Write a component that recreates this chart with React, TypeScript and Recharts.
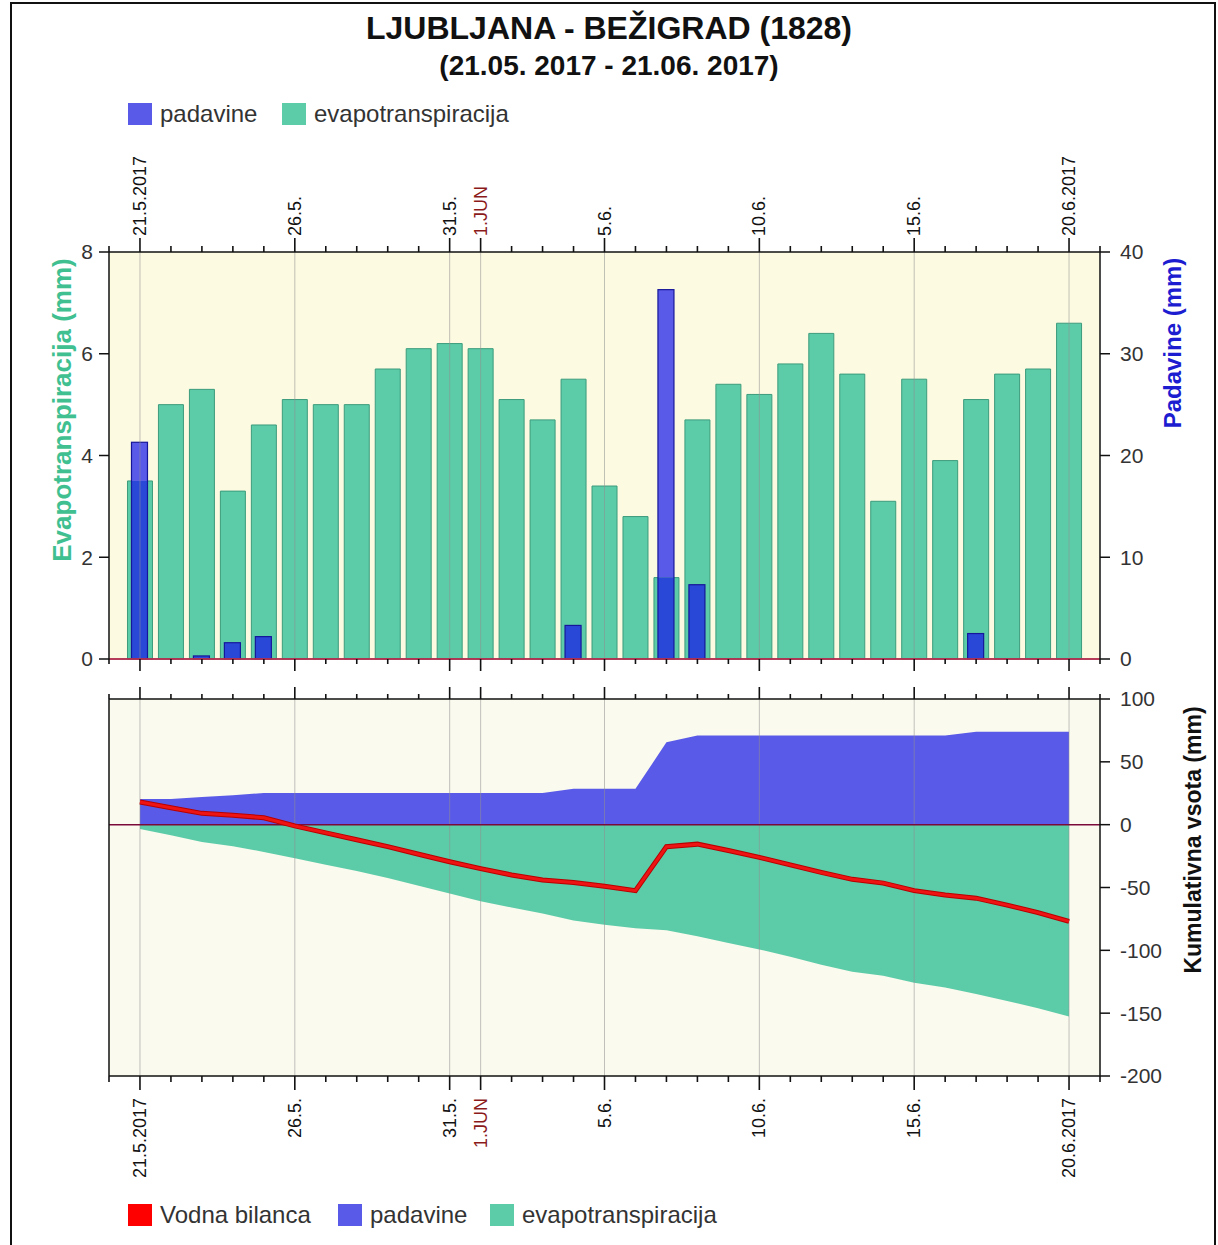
import React from "react";
import {
  ComposedChart,
  Bar,
  Area,
  Line,
  XAxis,
  YAxis,
  CartesianGrid,
  ReferenceLine,
} from "recharts";

const FONT = '"Liberation Sans", Arial, Helvetica, sans-serif';

// 21.5.2017 - 20.6.2017, one entry per day
const dates = [
  "21.5.", "22.5.", "23.5.", "24.5.", "25.5.", "26.5.", "27.5.", "28.5.", "29.5.", "30.5.", "31.5.",
  "1.6.", "2.6.", "3.6.", "4.6.", "5.6.", "6.6.", "7.6.", "8.6.", "9.6.", "10.6.",
  "11.6.", "12.6.", "13.6.", "14.6.", "15.6.", "16.6.", "17.6.", "18.6.", "19.6.", "20.6.",
];

const evapotranspiracija = [
  3.5, 5.0, 5.3, 3.3, 4.6, 5.1, 5.0, 5.0, 5.7, 6.1, 6.2,
  6.1, 5.1, 4.7, 5.5, 3.4, 2.8, 1.6, 4.7, 5.4, 5.2,
  5.8, 6.4, 5.6, 3.1, 5.5, 3.9, 5.1, 5.6, 5.7, 6.6,
];

const padavine = [
  21.3, 0, 0.3, 1.6, 2.2, 0, 0, 0, 0, 0, 0,
  0, 0, 0, 3.3, 0, 0, 36.3, 7.3, 0, 0,
  0, 0, 0, 0, 0, 0, 2.5, 0, 0, 0,
];

// cumulative sums (mm)
const kumPadavine = [
  20.5, 20.5, 22, 23.5, 25.2, 25.2, 25.2, 25.2, 25.2, 25.2, 25.2,
  25.2, 25.2, 25.2, 28.5, 28.5, 28.5, 65.5, 71, 71, 71,
  71, 71, 71, 71, 71, 71, 74, 74, 74, 74,
];

const kumEvapotranspiracija = [
  -3.5, -8.5, -13.8, -17.1, -21.7, -26.8, -31.8, -36.8, -42.5, -48.6, -54.8,
  -60.9, -66.0, -70.7, -76.2, -79.6, -82.4, -84.0, -88.7, -94.1, -99.3,
  -105.1, -111.5, -117.1, -120.2, -125.7, -129.6, -134.7, -140.3, -146.0, -152.6,
];

const vodnaBilanca = [
  18, 13.5, 9, 7.5, 5.5, -1, -6.5, -12, -17.5, -23.5, -29.5,
  -35, -40, -44, -46, -49, -52.5, -17.5, -15.5, -20.5, -26,
  -32, -38, -43.5, -46.5, -52.5, -56, -58.5, -64, -70, -77,
];

const majorDays = [0, 5, 10, 11, 15, 20, 25, 30];
const majorLabels = ["21.5.2017", "26.5.", "31.5.", "1.JUN", "5.6.", "10.6.", "15.6.", "20.6.2017"];
const dayTicks = Array.from({ length: 33 }, (_, i) => i - 1);

const etTicks = [0, 2, 4, 6, 8];
const pTicks = [0, 10, 20, 30, 40];
const cumTicks = [-200, -150, -100, -50, 0, 50, 100];

// both top axes share the same pixel range: 8 mm ET == 40 mm rain
const ET_MAX = 8;
const P_MAX = 40;

const chartData = dates.map((d, i) => ({
  day: i,
  date: d,
  et: evapotranspiracija[i],
  p: padavine[i],
  cumP: kumPadavine[i],
  cumET: kumEvapotranspiracija[i],
  bal: vodnaBilanca[i],
}));

const makeDayTick = (dir: number, majorLen: number, minorLen: number, labelGap: number | null) =>
  (props: any) => {
    const { x, y, payload } = props;
    const idx = majorDays.indexOf(payload.value);
    const len = idx >= 0 ? majorLen : minorLen;
    const label = majorLabels[idx];
    return (
      <g>
        <line x1={x} x2={x} y1={y} y2={y + dir * len} stroke="#111" strokeWidth={1.6} />
        {labelGap !== null && idx >= 0 && (
          <text
            transform={`translate(${x},${y + dir * labelGap}) rotate(-90)`}
            textAnchor={dir < 0 ? "start" : "end"}
            dominantBaseline="central"
            fontSize={18}
            fontFamily={FONT}
            fill={label === "1.JUN" ? "#8b1a1a" : "#111"}
          >
            {label}
          </text>
        )}
      </g>
    );
  };

// rain bar: darker where it sits over the ET bar, lighter above it
const RainBar = (props: any) => {
  const { x, y, width, height, payload } = props;
  if (!height || height <= 0) return <g />;
  const pxPerMm = height / payload.p;
  const etPx = Math.min(height, payload.et * (P_MAX / ET_MAX) * pxPerMm);
  const bottom = y + height;
  return (
    <g>
      <rect x={x} y={y} width={width} height={height - etPx} fill="#5a5ae8" />
      <rect x={x} y={bottom - etPx} width={width} height={etPx} fill="#2a48d8" />
      <rect x={x} y={y} width={width} height={height} fill="none" stroke="#16169a" strokeWidth={1.2} />
    </g>
  );
};

const axisTick = { fontSize: 21, fill: "#333", fontFamily: FONT };

const LegendItem = ({ left, top, color, text }: { left: number; top: number; color: string; text: string }) => (
  <div style={{ position: "absolute", left, top, display: "flex", alignItems: "center", height: 24 }}>
    <div style={{ width: 24, height: 22, background: color, marginRight: 8 }} />
    <span style={{ fontSize: 24, color: "#333", lineHeight: "24px" }}>{text}</span>
  </div>
);

const VTitle = ({ x, y, color, size, text }: { x: number; y: number; color: string; size: number; text: string }) => (
  <div
    style={{
      position: "absolute",
      left: x,
      top: y,
      transform: "translate(-50%, -50%) rotate(-90deg)",
      whiteSpace: "nowrap",
      fontWeight: "bold",
      fontSize: size,
      color,
    }}
  >
    {text}
  </div>
);

export default function App() {
  return (
    <div
      style={{
        position: "absolute",
        left: 0,
        top: 0,
        width: 1218,
        height: 1245,
        overflow: "hidden",
        background: "#fff",
        fontFamily: FONT,
      }}
    >
      <div
        style={{
          position: "absolute",
          left: 10,
          top: 2,
          width: 1206,
          height: 1260,
          border: "2px solid #111",
          boxSizing: "border-box",
        }}
      />

      <div style={{ position: "absolute", left: 0, width: 1218, top: 10, textAlign: "center", fontWeight: "bold", fontSize: 32, color: "#111", lineHeight: "36px" }}>
        LJUBLJANA - BEŽIGRAD (1828)
      </div>
      <div style={{ position: "absolute", left: 0, width: 1218, top: 50, textAlign: "center", fontWeight: "bold", fontSize: 28, color: "#111", lineHeight: "32px" }}>
        (21.05. 2017 - 21.06. 2017)
      </div>

      <LegendItem left={128} top={102} color="#5a5ae8" text="padavine" />
      <LegendItem left={282} top={102} color="#5ccba8" text="evapotranspiracija" />

      {/* Daily bars */}
      <div style={{ position: "absolute", left: 0, top: 130 }}>
        <ComposedChart width={1218} height={554} data={chartData} margin={{ top: 12, right: 58, bottom: 5, left: 49 }}>
          <CartesianGrid xAxisId="top" yAxisId="et" horizontal={false} vertical={false} fill="#fcfae1" fillOpacity={1} />
          <XAxis
            xAxisId="top"
            orientation="top"
            type="number"
            dataKey="day"
            domain={[-1, 31]}
            ticks={dayTicks}
            interval={0}
            height={110}
            tickSize={0}
            tickMargin={0}
            tickLine={false}
            axisLine={{ stroke: "#111", strokeWidth: 1.5 }}
            tick={makeDayTick(-1, 14, 6, 16)}
            allowDataOverflow
          />
          <XAxis
            xAxisId="bottom"
            orientation="bottom"
            type="number"
            dataKey="day"
            domain={[-1, 31]}
            ticks={dayTicks}
            interval={0}
            height={20}
            tickSize={0}
            tickMargin={0}
            tickLine={false}
            axisLine={{ stroke: "#b03050", strokeWidth: 1.5 }}
            tick={makeDayTick(1, 12, 5, null)}
            allowDataOverflow
          />
          <YAxis
            yAxisId="et"
            orientation="left"
            domain={[0, ET_MAX]}
            ticks={etTicks}
            width={60}
            tickSize={10}
            tickMargin={6}
            tick={axisTick}
            tickLine={{ stroke: "#111", strokeWidth: 1.5 }}
            axisLine={{ stroke: "#111", strokeWidth: 1.5 }}
          />
          <YAxis
            yAxisId="p"
            orientation="right"
            domain={[0, P_MAX]}
            ticks={pTicks}
            width={60}
            tickSize={10}
            tickMargin={10}
            tick={axisTick}
            tickLine={{ stroke: "#111", strokeWidth: 1.5 }}
            axisLine={{ stroke: "#111", strokeWidth: 1.5 }}
          />
          <Bar xAxisId="top" yAxisId="et" dataKey="et" barSize={25} fill="#5ccba8" stroke="#3c9c7c" isAnimationActive={false} />
          <Bar xAxisId="bottom" yAxisId="p" dataKey="p" barSize={16} fill="#5a5ae8" shape={RainBar} isAnimationActive={false} />
          {majorDays.map((d) => (
            <ReferenceLine key={d} xAxisId="top" yAxisId="et" x={d} stroke="#8f8f8f" strokeOpacity={0.55} />
          ))}
          <ReferenceLine xAxisId="top" yAxisId="et" y={0} stroke="#b03050" strokeWidth={1.5} />
        </ComposedChart>
      </div>

      {/* Cumulative sums */}
      <div style={{ position: "absolute", left: 0, top: 680 }}>
        <ComposedChart width={1218} height={516} data={chartData} margin={{ top: 0, right: 58, bottom: 0, left: 89 }}>
          <CartesianGrid xAxisId="btop" yAxisId="cum" horizontal={false} vertical={false} fill="#fbfaee" fillOpacity={1} />
          <XAxis
            xAxisId="btop"
            orientation="top"
            type="number"
            dataKey="day"
            domain={[-1, 31]}
            ticks={dayTicks}
            interval={0}
            height={19}
            tickSize={0}
            tickMargin={0}
            tickLine={false}
            axisLine={{ stroke: "#111", strokeWidth: 1.5 }}
            tick={makeDayTick(-1, 12, 5, null)}
            allowDataOverflow
          />
          <XAxis
            xAxisId="bbottom"
            orientation="bottom"
            type="number"
            dataKey="day"
            domain={[-1, 31]}
            ticks={dayTicks}
            interval={0}
            height={120}
            tickSize={0}
            tickMargin={0}
            tickLine={false}
            axisLine={{ stroke: "#111", strokeWidth: 1.5 }}
            tick={makeDayTick(1, 14, 6, 22)}
            allowDataOverflow
          />
          <YAxis
            yAxisId="cumL"
            orientation="left"
            domain={[-200, 100]}
            width={20}
            tick={false}
            tickLine={false}
            axisLine={{ stroke: "#111", strokeWidth: 1.5 }}
          />
          <YAxis
            yAxisId="cum"
            orientation="right"
            domain={[-200, 100]}
            ticks={cumTicks}
            width={60}
            tickSize={10}
            tickMargin={10}
            tick={axisTick}
            tickLine={{ stroke: "#111", strokeWidth: 1.5 }}
            axisLine={{ stroke: "#111", strokeWidth: 1.5 }}
          />
          <Area xAxisId="btop" yAxisId="cum" type="linear" dataKey="cumP" baseValue={0} fill="#5a5ae8" fillOpacity={1} stroke="none" isAnimationActive={false} />
          <Area xAxisId="btop" yAxisId="cum" type="linear" dataKey="cumET" baseValue={0} fill="#5ccba8" fillOpacity={1} stroke="none" isAnimationActive={false} />
          {majorDays.map((d) => (
            <ReferenceLine key={d} xAxisId="btop" yAxisId="cum" x={d} stroke="#8f8f8f" strokeOpacity={0.55} />
          ))}
          <ReferenceLine xAxisId="btop" yAxisId="cum" y={0} stroke="#7a0a3a" strokeWidth={1.5} />
          <Line xAxisId="btop" yAxisId="cum" type="linear" dataKey="bal" stroke="#b80000" strokeWidth={5} dot={false} legendType="none" isAnimationActive={false} />
          <Line xAxisId="btop" yAxisId="cum" type="linear" dataKey="bal" stroke="#ee1414" strokeWidth={3} dot={false} isAnimationActive={false} />
        </ComposedChart>
      </div>

      <VTitle x={62} y={410} color="#40c090" size={26} text="Evapotranspiracija (mm)" />
      <VTitle x={1173} y={343} color="#1c1cd0" size={24} text="Padavine (mm)" />
      <VTitle x={1193} y={840} color="#111" size={23} text="Kumulativna vsota (mm)" />

      <LegendItem left={128} top={1203} color="#ff0000" text="Vodna bilanca" />
      <LegendItem left={338} top={1203} color="#5a5ae8" text="padavine" />
      <LegendItem left={490} top={1203} color="#5ccba8" text="evapotranspiracija" />
    </div>
  );
}
